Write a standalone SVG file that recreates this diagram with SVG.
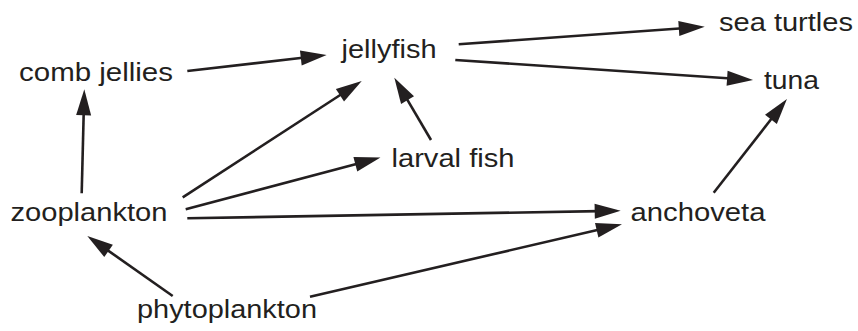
<svg xmlns="http://www.w3.org/2000/svg" width="858" height="331" viewBox="0 0 858 331">
  <style>
    .lbl { font-family: "Liberation Sans", Arial, Helvetica, sans-serif; font-size: 26px; fill: #231f20; }
    .edge { stroke: #231f20; stroke-width: 2.6; fill: none; marker-end: url(#arrow); }
  </style>
  <defs>
    <marker id="arrow" markerUnits="userSpaceOnUse" markerWidth="26" markerHeight="15" refX="4" refY="7.5" orient="auto" overflow="visible">
      <path d="M0,0 L26,7.5 L0,15 Z" fill="#231f20"/>
    </marker>
  </defs>
  <rect width="858" height="331" fill="#ffffff"/>

  <g id="connectors">
    <line class="edge" x1="187.3" y1="71" x2="304.8" y2="57.5"/>
    <line class="edge" x1="81.7" y1="193.3" x2="83.75" y2="111.3"/>
    <line class="edge" x1="182.7" y1="197.3" x2="343.3" y2="93.0"/>
    <line class="edge" x1="431" y1="140" x2="405.5" y2="96.7"/>
    <line class="edge" x1="185.7" y1="209.3" x2="359.2" y2="163.2"/>
    <line class="edge" x1="187.3" y1="218.3" x2="598.7" y2="211.1"/>
    <line class="edge" x1="310" y1="296.7" x2="600.6" y2="229.3"/>
    <line class="edge" x1="172.7" y1="296" x2="105.3" y2="248.6"/>
    <line class="edge" x1="713.7" y1="192.7" x2="773.4" y2="116.3"/>
    <line class="edge" x1="458.7" y1="44.3" x2="682.8" y2="28.3"/>
    <line class="edge" x1="455.3" y1="60" x2="731.1" y2="78.5"/>
  </g>

  <g id="jellyfish"><text class="lbl" x="341.5" y="57.5" textLength="95" lengthAdjust="spacingAndGlyphs">jellyfish</text></g>
  <g id="comb-jellies"><text class="lbl" x="19" y="80.5" textLength="154" lengthAdjust="spacingAndGlyphs">comb jellies</text></g>
  <g id="sea-turtles"><text class="lbl" x="719" y="30.5" textLength="134" lengthAdjust="spacingAndGlyphs">sea turtles</text></g>
  <g id="tuna"><text class="lbl" x="764" y="89" textLength="55" lengthAdjust="spacingAndGlyphs">tuna</text></g>
  <g id="larval-fish"><text class="lbl" x="391.5" y="167" textLength="123" lengthAdjust="spacingAndGlyphs">larval fish</text></g>
  <g id="zooplankton"><text class="lbl" x="10.5" y="220.5" textLength="157" lengthAdjust="spacingAndGlyphs">zooplankton</text></g>
  <g id="anchoveta"><text class="lbl" x="630.5" y="220.5" textLength="135" lengthAdjust="spacingAndGlyphs">anchoveta</text></g>
  <g id="phytoplankton"><text class="lbl" x="137" y="317.5" textLength="180" lengthAdjust="spacingAndGlyphs">phytoplankton</text></g>
</svg>
